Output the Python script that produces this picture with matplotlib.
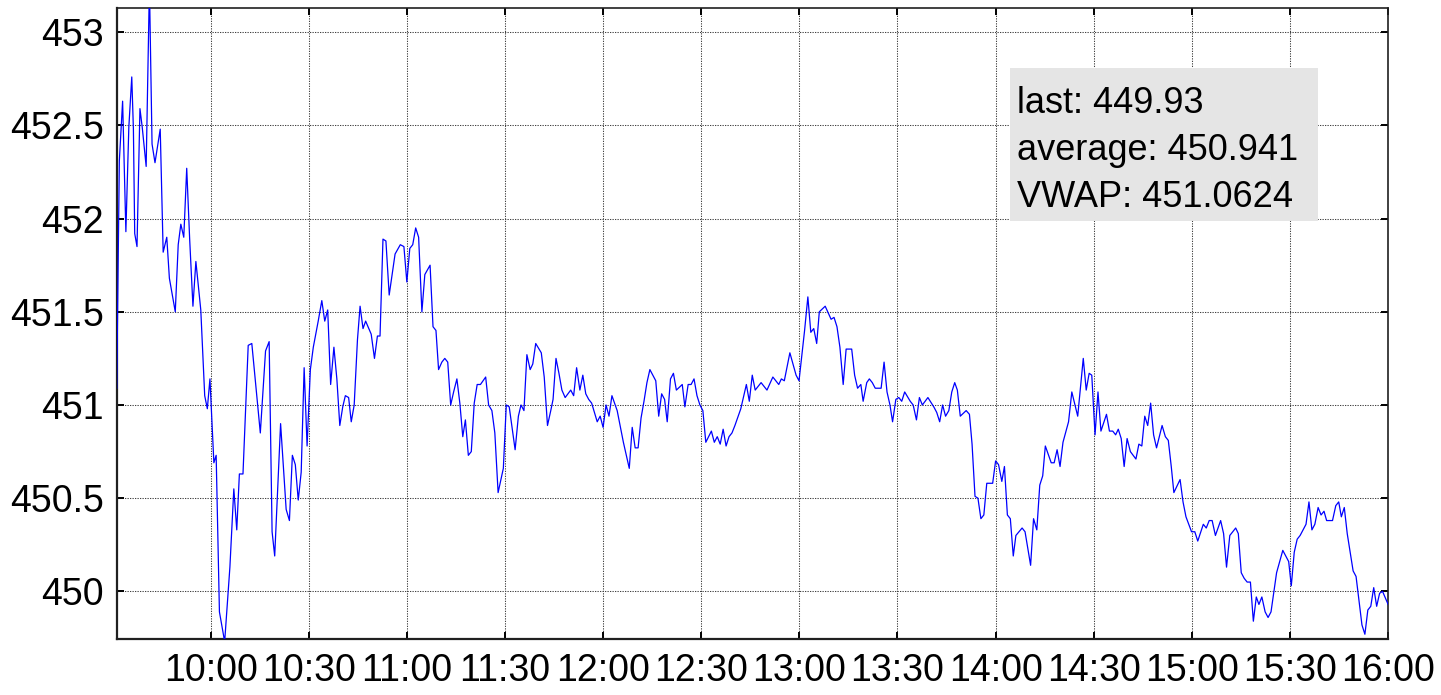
import matplotlib
matplotlib.use("Agg")
import matplotlib.pyplot as plt
from matplotlib.patches import Rectangle

# ---- data (minutes after 09:30, price) ----
minutes = [
    1.3, 2.1, 3.1, 4.1, 5.0, 5.9, 6.4, 6.8, 7.5, 8.4, 9.1, 10.3, 11.3, 12.1, 13.0, 14.6,
    15.5, 16.6, 17.4, 19.2, 20.1, 20.9, 21.8, 22.7, 23.6, 24.6, 25.5, 27.0, 28.2, 29.0,
    29.8, 31.0, 31.7, 32.7, 34.3, 35.9, 37.1, 38.0, 38.8, 39.9, 41.5, 42.6, 45.2, 46.8,
    47.9, 48.8, 49.6, 51.4, 53.1, 54.1, 55.0, 55.9, 56.8, 57.7, 58.6, 59.5, 60.5,
    61.4, 62.9, 64.0, 64.9, 65.8, 66.7, 67.7, 68.6, 69.5, 70.4, 71.2, 72.2, 73.0, 73.9,
    74.9, 75.7, 76.6, 77.4, 79.1, 80.1, 81.0, 81.8, 82.7, 83.6, 84.6, 86.4, 88.0, 89.1,
    90.0, 90.9, 91.8, 92.7, 93.6, 94.6, 95.5, 97.1, 98.0, 98.9, 99.7, 100.7, 101.6,
    102.5, 103.4, 104.3, 105.3, 106.2, 107.1, 107.9, 108.8, 109.7, 110.6, 111.5, 112.5,
    114.1, 115.0, 116.0, 116.9, 117.9, 119.5, 120.4, 121.3, 123.1, 124.1,
    124.9, 125.8, 126.7, 127.7, 128.5, 129.4, 131.1, 132.0, 133.0, 134.0, 134.7, 135.6,
    136.5, 137.4, 138.4, 140.1, 141.0, 141.9, 142.9, 143.8, 144.7, 145.6, 146.5, 148.2,
    149.1, 150.0, 150.9, 151.8, 152.7, 154.3, 156.2, 158.0, 158.9, 159.8, 160.7, 161.6,
    162.5, 163.4, 164.3, 166.1, 167.0, 167.9, 168.8, 169.6, 170.6, 171.5, 172.4, 174.2,
    175.0, 176.0, 176.9, 177.8, 178.7, 179.6,
    180.5, 181.4, 183.1, 184.0, 184.9, 185.8, 186.7, 187.6, 188.5, 189.4, 190.3, 192.1,
    192.9, 193.8, 194.7, 195.6, 196.5, 198.3, 200.1, 201.9, 203.7, 204.5, 205.4, 207.1,
    209.0, 209.9, 211.6, 212.6, 213.5, 214.4, 215.3, 216.1, 217.9, 219.7, 220.6, 221.5,
    222.4, 223.4, 224.3, 226.0, 226.9, 227.8, 228.8, 229.5, 230.6, 231.4, 232.3, 233.2,
    235.0, 235.9, 236.8, 237.7, 238.5, 239.5, 240.4,
    241.3, 242.2, 243.9, 244.8, 245.8, 246.7, 247.6, 249.3, 251.1, 252.0, 252.9, 253.8,
    254.7, 255.7, 256.6, 257.5, 258.3, 259.2, 261.0, 262.0, 262.8, 263.7, 264.6, 265.5,
    266.4, 267.3, 269.1, 270.0, 270.9, 271.9, 272.7, 273.6, 274.5, 275.4, 276.2, 278.1,
    279.0, 280.7, 281.6, 282.6, 283.5, 284.4, 285.2, 287.0, 287.9, 288.8, 289.7, 290.6,
    292.3, 293.3, 295.1, 296.8, 297.7, 298.6, 299.4, 300.4, 301.3, 302.2, 303.9, 304.8,
    305.8, 306.7, 307.5,
    308.4, 309.3, 310.2, 311.2, 312.9, 313.8, 314.7, 315.6, 316.5, 317.4, 318.3, 319.2,
    320.9, 321.9, 322.8, 323.7, 324.5, 326.4, 327.3, 328.2, 329.9, 330.9, 331.8, 333.5,
    334.4, 335.3, 336.2, 337.2, 338.8, 339.7, 340.6, 341.6, 343.4, 344.2, 345.1, 346.0,
    346.9, 347.9, 348.8, 349.7, 350.5, 351.4, 352.4, 353.3, 354.2, 355.9, 357.8, 359.6,
    360.4, 361.3, 362.2, 363.1, 364.9, 365.8, 366.7, 367.6, 368.6, 369.5, 370.4, 371.2,
    373.0, 374.0, 374.9, 375.7, 376.6, 377.5, 379.3, 380.2, 381.1, 382.0, 382.9, 383.8,
    384.7, 385.6, 386.5, 387.4, 388.3, 390.0,
]
prices = [
    451.09, 452.31, 452.63, 451.93, 452.49, 452.76, 452.48, 451.92, 451.85, 452.59, 452.49,
    452.28, 453.25, 452.40, 452.30, 452.48, 451.82, 451.90, 451.68, 451.50, 451.86, 451.97,
    451.90, 452.27, 451.89, 451.53, 451.77, 451.51, 451.05, 450.98, 451.14, 450.69, 450.73,
    449.89, 449.73, 450.13, 450.55, 450.33, 450.63, 450.63, 451.32, 451.33, 450.85, 451.29,
    451.34, 450.32, 450.19, 450.90, 450.44, 450.38, 450.73, 450.68, 450.49, 450.64, 451.20,
    450.78, 451.19,
    451.31, 451.45, 451.56, 451.45, 451.51, 451.11, 451.31, 451.14, 450.89, 450.99, 451.05,
    451.04, 450.91, 451.00, 451.35, 451.53, 451.41, 451.45, 451.38, 451.25, 451.37, 451.37,
    451.89, 451.88, 451.59, 451.81, 451.86, 451.85, 451.66, 451.84, 451.86, 451.95, 451.90,
    451.50, 451.70, 451.75, 451.42, 451.40, 451.19, 451.23, 451.25, 451.23, 451.00, 451.07,
    451.14, 451.01, 450.83, 450.92, 450.73, 450.75, 451.01, 451.11, 451.11, 451.15, 451.00,
    450.97, 450.85, 450.53, 450.66, 451.00, 450.99, 450.76, 450.94,
    451.00, 450.97, 451.27, 451.19, 451.22, 451.33, 451.28, 451.15, 450.89, 450.97, 451.03,
    451.25, 451.17, 451.08, 451.04, 451.08, 451.05, 451.20, 451.08, 451.16, 451.06, 451.03,
    451.01, 450.91, 450.94, 450.88, 451.00, 450.94, 451.05, 450.97, 450.80, 450.66, 450.88,
    450.77, 450.77, 450.93, 451.02, 451.12, 451.19, 451.13, 450.94, 451.06, 451.03, 450.91,
    451.14, 451.17, 451.08, 451.11, 450.99, 451.11, 451.11, 451.14, 451.05, 451.00,
    450.97, 450.80, 450.86, 450.80, 450.83, 450.79, 450.87, 450.78, 450.83, 450.85, 450.89,
    450.98, 451.04, 451.11, 451.02, 451.16, 451.08, 451.12, 451.08, 451.15, 451.11, 451.14,
    451.13, 451.28, 451.16, 451.13, 451.40, 451.58, 451.39, 451.41, 451.33, 451.50, 451.53,
    451.46, 451.47, 451.42, 451.31, 451.11, 451.30, 451.30, 451.16, 451.09, 451.11, 451.02,
    451.12, 451.14, 451.12, 451.09, 451.09, 451.23, 451.07, 451.00, 450.91, 451.03, 451.04,
    451.02, 451.07, 451.02, 451.00, 450.92, 451.04, 451.00, 451.04, 450.99, 450.96, 450.91,
    451.00, 450.94, 450.97, 451.07, 451.12, 451.08, 450.94, 450.97, 450.95, 450.79, 450.51,
    450.50, 450.39, 450.41, 450.58, 450.58, 450.70, 450.68, 450.59, 450.67, 450.41, 450.39,
    450.19, 450.30, 450.34, 450.32, 450.14, 450.39, 450.33, 450.57, 450.62, 450.78, 450.69,
    450.69, 450.76, 450.67, 450.80, 450.91, 451.07, 450.94, 451.25, 451.08, 451.17, 451.16,
    450.84, 451.07, 450.86, 450.95, 450.86, 450.86, 450.84, 450.87,
    450.82, 450.67, 450.82, 450.75, 450.71, 450.79, 450.78, 450.94, 450.89, 451.01, 450.84,
    450.77, 450.89, 450.83, 450.81, 450.67, 450.53, 450.60, 450.48, 450.40, 450.32, 450.32,
    450.27, 450.36, 450.34, 450.38, 450.38, 450.30, 450.38, 450.31, 450.13, 450.30, 450.34,
    450.31, 450.10, 450.07, 450.05, 450.05, 449.84, 449.97, 449.93, 449.97, 449.89, 449.86,
    449.89, 450.10, 450.22, 450.16, 450.03, 450.21, 450.28, 450.30, 450.36, 450.48, 450.33,
    450.36, 450.45, 450.41, 450.43, 450.38, 450.38, 450.46, 450.48, 450.40, 450.45, 450.31,
    450.11, 450.08, 449.95, 449.82, 449.77, 449.90, 449.92, 450.02, 449.92, 449.99, 450.00,
    449.93,
]
x_tick_labels = ["10:00", "10:30", "11:00", "11:30", "12:00", "12:30", "13:00",
                 "13:30", "14:00", "14:30", "15:00", "15:30", "16:00"]
y_ticks = [450, 450.5, 451, 451.5, 452, 452.5, 453]
y_tick_labels = ["450", "450.5", "451", "451.5", "452", "452.5", "453"]
stats_lines = ["last: 449.93", "average: 450.941", "VWAP: 451.0624"]


def to_minutes(hhmm):
    h, m = hhmm.split(":")
    return (int(h) - 9) * 60 + int(m) - 30


plt.rcParams["font.family"] = ["Liberation Sans", "DejaVu Sans"]

fig = plt.figure(figsize=(14.41, 6.95), dpi=100)
ax = fig.add_axes([0.081, 0.0799, 0.8823, 0.9086])

ax.plot(minutes, prices, color="#0000ff", linewidth=0.9, zorder=3)

ax.set_xlim(minutes[0], minutes[-1])
ax.set_ylim(449.742, 453.13)
ax.set_xticks([to_minutes(t) for t in x_tick_labels])
ax.set_xticklabels(x_tick_labels)
ax.set_yticks(y_ticks)
ax.set_yticklabels(y_tick_labels)

ax.grid(True, color="#404040", linestyle=(0, (1.2, 1.2)), linewidth=0.75, zorder=1)
ax.tick_params(axis="both", direction="in", length=5, width=1.4, top=True, right=True,
               labelsize=27, colors="black", pad=10)
ax.tick_params(axis="y", pad=9)

for side in ["left", "bottom"]:
    ax.spines[side].set_linewidth(1.6)
for side in ["top", "right"]:
    ax.spines[side].set_linewidth(1.2)
for s in ax.spines.values():
    s.set_color("#202020")

# stats box
box = Rectangle((0.7027, 0.6627), 0.2422, 0.2423, transform=ax.transAxes,
                facecolor="#e5e5e5", edgecolor="none", zorder=5)
ax.add_patch(box)
for line, yb in zip(stats_lines, [0.8342, 0.7593, 0.6853]):
    ax.text(0.7079, yb, line, transform=ax.transAxes, fontsize=26, va="baseline",
            ha="left", color="black", zorder=6)

fig.savefig("out.png", dpi=100)
